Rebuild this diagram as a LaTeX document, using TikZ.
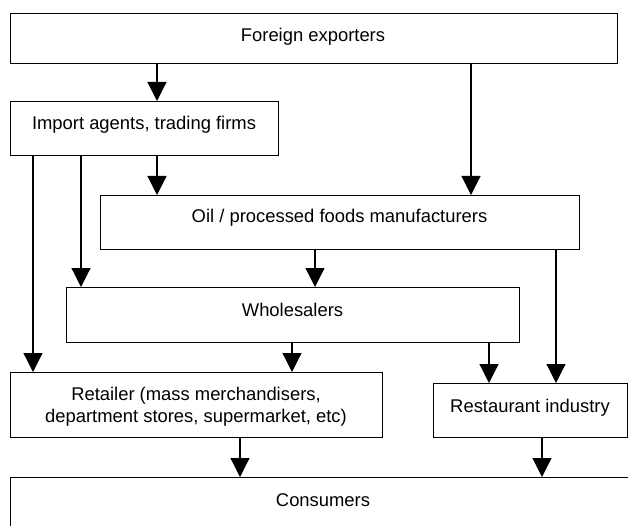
\documentclass[tikz,border=0pt]{standalone}
\usepackage{fontspec}
\setmainfont{Liberation Sans}
\usetikzlibrary{arrows.meta}
\begin{document}
\begin{tikzpicture}[x=1bp,y=-1bp,
  box/.style={draw, line width=1.2bp, inner sep=0pt, anchor=north west},
  lbl/.style={font=\fontsize{18.4bp}{22bp}\selectfont, align=center, inner sep=0pt},
  flow/.style={line width=1.2bp, -{Triangle[width=19bp,length=19bp]}}]
\useasboundingbox (0,0) rectangle (628,526);
\clip (0,0) rectangle (628,526);

% boxes of the supply chain
\node[box, minimum width=607.5bp, minimum height=50bp] (fe)   at (9.5,13)  {};
\node[box, minimum width=268.5bp, minimum height=54bp] (imp)  at (9.5,101) {};
\node[box, minimum width=479bp,   minimum height=54bp] (oil)  at (100,195) {};
\node[box, minimum width=453bp,   minimum height=55bp] (whs)  at (66,287)  {};
\node[box, minimum width=372.5bp, minimum height=65bp] (ret)  at (9.5,372) {};
\node[box, minimum width=194bp,   minimum height=54bp] (rest) at (433,383) {};
\node[box, minimum width=700bp,   minimum height=120bp] (con) at (9.5,477) {};

% labels
\node[lbl, anchor=base] (fe-t)   at (313,41.5)  {Foreign exporters};
\node[lbl, anchor=base] (imp-t)  at (144,129.5) {Import agents, trading firms};
\node[lbl, anchor=base] (oil-t)  at (339.5,223) {Oil / processed foods manufacturers};
\node[lbl, anchor=base] (whs-t)  at (292.5,316) {Wholesalers};
\node[lbl]              (ret-t)  at (196,406.3) {Retailer (mass merchandisers,\\department stores, supermarket, etc)};
\node[lbl, anchor=base] (rest-t) at (530,412)   {Restaurant industry};
\node[lbl, anchor=base] (con-t)  at (323,506)   {Consumers};

% flows
\draw[flow] (157,0 |- fe.south)  -- (157,0 |- imp.north);
\draw[flow] (471,0 |- fe.south)  -- (471,0 |- oil.north);
\draw[flow] (157,0 |- imp.south) -- (157,0 |- oil.north);
\draw[flow] (33,0 |- imp.south)  -- (33,0 |- ret.north);
\draw[flow] (81,0 |- imp.south)  -- (81,0 |- whs.north);
\draw[flow] (315,0 |- oil.south) -- (315,0 |- whs.north);
\draw[flow] (556,0 |- oil.south) -- (556,0 |- rest.north);
\draw[flow] (292,0 |- whs.south) -- (292,0 |- ret.north);
\draw[flow] (489,0 |- whs.south) -- (489,0 |- rest.north);
\draw[flow] (240,0 |- ret.south) -- (240,0 |- con.north);
\draw[flow] (542,0 |- rest.south) -- (542,0 |- con.north);
\end{tikzpicture}
\end{document}
